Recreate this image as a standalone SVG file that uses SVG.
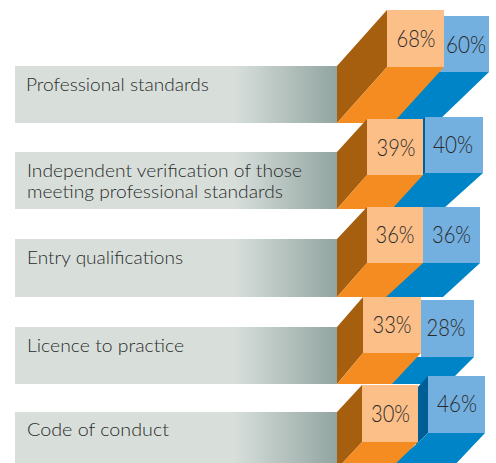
<svg xmlns="http://www.w3.org/2000/svg" width="496" height="463" viewBox="0 0 496 463">
<defs>
<linearGradient id="lbl" x1="0" y1="0" x2="1" y2="0">
<stop offset="0" stop-color="#D8DFDB"/>
<stop offset="0.68" stop-color="#D8DFDB"/>
<stop offset="1" stop-color="#92A5A1"/>
</linearGradient>
</defs>
<style>
.box{fill:url(#lbl)}
.os{fill:#A65F0E}
.ob{fill:#F48C21}
.oc{fill:#FCBF88}
.bs{fill:#005E96}
.bb{fill:#0084C8}
.bc{fill:#73B0E0}
.lt{font-family:Lato,"Liberation Sans",sans-serif;font-weight:300;font-size:18px;fill:#2B2B2B}
.pt{font-family:Lato,"Liberation Sans",sans-serif;font-weight:300;font-size:23px;fill:#2B2B2B;text-anchor:middle}
</style>
<g id="connectors"/>
<g id="row1">
<rect class="box" x="15" y="66" width="322" height="57"/>
<polygon class="bb" points="380,123 432,72 489,72 436,123"/>
<rect class="bc" x="432" y="16" width="57" height="56"/>
<polygon class="os" points="337,66 387,10 387,67 337,123"/>
<polygon class="ob" points="337,123 387,67 444,67 393,123"/>
<rect class="oc" x="387" y="10" width="57" height="57"/>
<text class="lt" x="26" y="91" textLength="183" lengthAdjust="spacingAndGlyphs">Professional standards</text>
<text class="pt" x="416" y="47" textLength="39" lengthAdjust="spacingAndGlyphs">68%</text>
<text class="pt" x="466" y="53" textLength="40" lengthAdjust="spacingAndGlyphs">60%</text>
</g>
<g id="row2">
<rect class="box" x="15" y="152" width="322" height="57"/>
<polygon class="bs" points="422,120 425,117 425,173 422,176"/>
<polygon class="bb" points="386,209 421,175 425,173 483,173 443,209"/>
<rect class="bc" x="425" y="117" width="58" height="56"/>
<polygon class="os" points="337,152 367,119 367,175 337,209"/>
<polygon class="ob" points="337,209 367,175 423,175 392,209"/>
<rect class="oc" x="367" y="119" width="56" height="56"/>
<text class="lt" x="27" y="177" textLength="275" lengthAdjust="spacingAndGlyphs">Independent verification of those</text>
<text class="lt" x="27" y="198" textLength="256" lengthAdjust="spacingAndGlyphs">meeting professional standards</text>
<text class="pt" x="396" y="156" textLength="39" lengthAdjust="spacingAndGlyphs">39%</text>
<text class="pt" x="453" y="153" textLength="40" lengthAdjust="spacingAndGlyphs">40%</text>
</g>
<g id="row3">
<rect class="box" x="15" y="239" width="322" height="58"/>
<polygon class="bb" points="380,297 418,263 480,263 443,297"/>
<rect class="bc" x="423" y="207" width="57" height="56"/>
<polygon class="os" points="337,239 367,207 367,263 337,297"/>
<polygon class="ob" points="337,297 367,263 423,263 386,297"/>
<rect class="oc" x="367" y="207" width="56" height="56"/>
<text class="lt" x="27" y="264" textLength="156" lengthAdjust="spacingAndGlyphs">Entry qualifications</text>
<text class="pt" x="395" y="243" textLength="39" lengthAdjust="spacingAndGlyphs">36%</text>
<text class="pt" x="451.5" y="243" textLength="39" lengthAdjust="spacingAndGlyphs">36%</text>
</g>
<g id="row4">
<rect class="box" x="15" y="327" width="322" height="57"/>
<polygon class="bb" points="386,384 415,357 474,357 447,384"/>
<rect class="bc" x="421" y="300" width="53" height="57"/>
<polygon class="os" points="337,327 363,297 363,353 337,384"/>
<polygon class="ob" points="337,384 363,353 421,353 392,384"/>
<rect class="oc" x="363" y="297" width="58" height="56"/>
<text class="lt" x="27" y="352" textLength="157" lengthAdjust="spacingAndGlyphs">Licence to practice</text>
<text class="pt" x="392" y="333" textLength="39" lengthAdjust="spacingAndGlyphs">33%</text>
<text class="pt" x="446" y="336" textLength="39" lengthAdjust="spacingAndGlyphs">28%</text>
</g>
<g id="row5">
<rect class="box" x="15" y="412" width="322" height="57"/>
<polygon class="bs" points="416,389 428,376 428,433 416,445"/>
<polygon class="bb" points="385,469 418,443 428,433 485,433 451,469"/>
<rect class="bc" x="428" y="376" width="57" height="57"/>
<polygon class="os" points="337,412 362,385 362,442 337,469"/>
<polygon class="ob" points="337,469 362,442 418,442 390,469"/>
<rect class="oc" x="362" y="385" width="56" height="57"/>
<text class="lt" x="27" y="436" textLength="142" lengthAdjust="spacingAndGlyphs">Code of conduct</text>
<text class="pt" x="390.5" y="422" textLength="39" lengthAdjust="spacingAndGlyphs">30%</text>
<text class="pt" x="457" y="412" textLength="40" lengthAdjust="spacingAndGlyphs">46%</text>
</g>
</svg>
